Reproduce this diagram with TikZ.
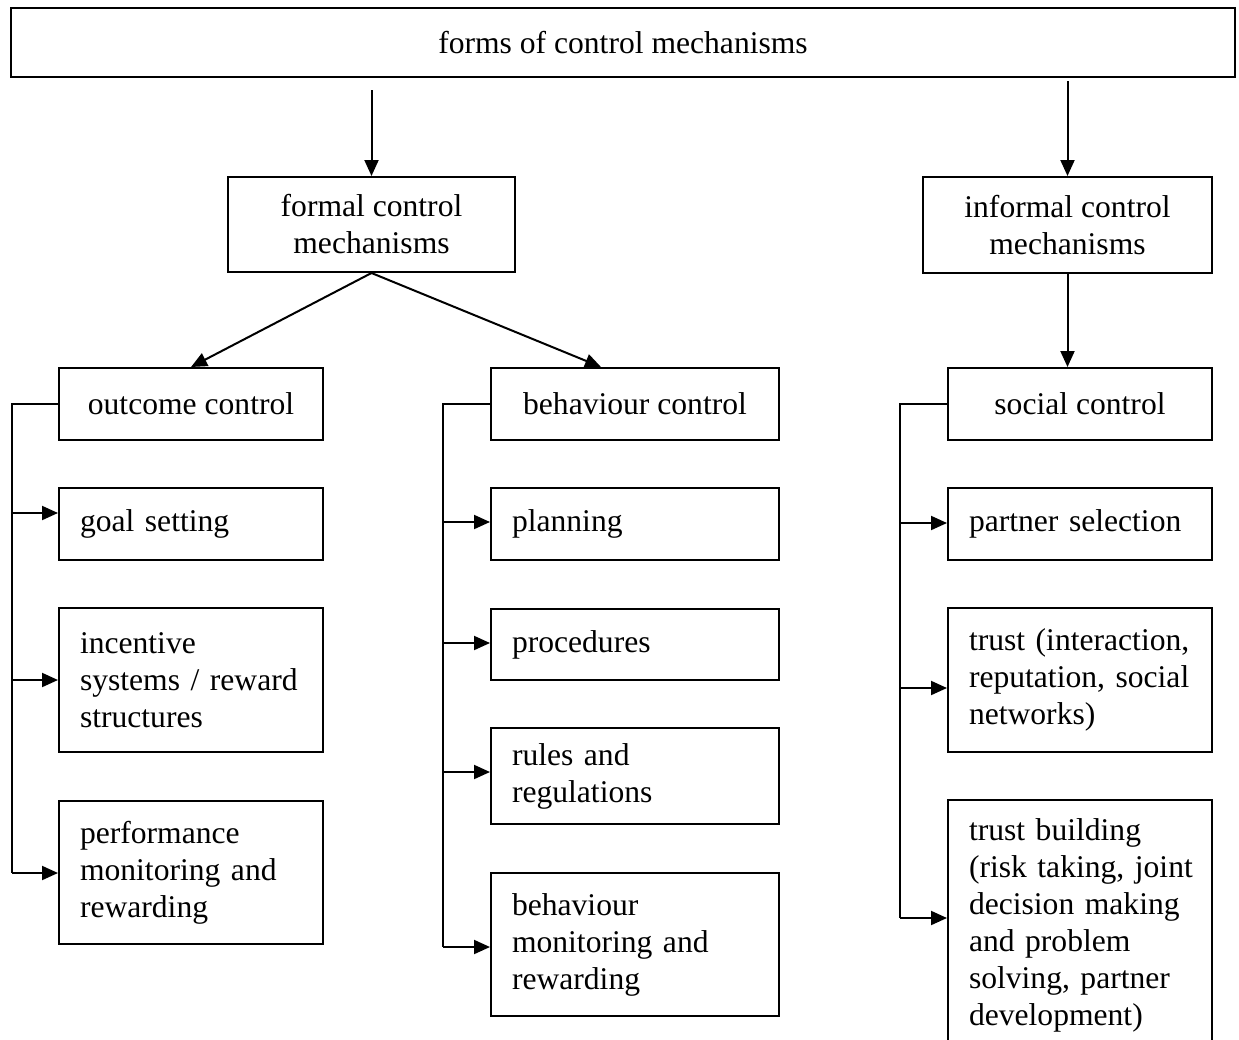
\documentclass[tikz,border=0pt]{standalone}
\usepackage{fontspec}
\setmainfont{Liberation Serif}
\usetikzlibrary{arrows.meta}
\begin{document}
\begin{tikzpicture}[x=1pt,y=-1pt,
  line width=2pt,
  box/.style={draw, rectangle, inner sep=0pt, align=center,
    font=\fontsize{31.6pt}{37pt}\selectfont},
  leaf/.style={draw, rectangle, inner ysep=0pt, inner xsep=21pt, align=left,
    font=\fontsize{31.6pt}{37pt}\selectfont},
  arr/.style={-{Triangle[length=16pt,width=14pt]}},
]
\useasboundingbox (0,0) rectangle (1239,1039);
\clip (0,0) rectangle (1239,1039);

% root and the two families of mechanisms
\node[box, minimum width=1224pt, minimum height=69pt] (root) at (623,42.5) {forms of control mechanisms};
\node[box, minimum width=287pt, minimum height=95pt] (formal) at (371.5,224.5) {formal control\\mechanisms};
\node[box, minimum width=289pt, minimum height=96pt] (informal) at (1067.5,225) {informal control\\mechanisms};

% control types
\node[box, minimum width=264pt, minimum height=72pt] (outcome) at (191,404) {outcome control};
\node[box, minimum width=288pt, minimum height=72pt] (behav) at (635,404) {behaviour control};
\node[box, minimum width=264pt, minimum height=72pt] (social) at (1080,404) {social control};

% outcome control instruments
\node[leaf, text width=222pt, minimum height=72pt] (goal) at (191,524) {\mbox{goal setting}};
\node[leaf, text width=222pt, minimum height=144pt] (incent) at (191,680)
  {\mbox{incentive}\\\mbox{systems / reward}\\\mbox{structures}};
\node[leaf, text width=222pt, minimum height=143pt] (perf) at (191,872.5)
  {\mbox{performance}\\\mbox{monitoring and}\\\mbox{rewarding}};

% behaviour control instruments
\node[leaf, text width=246pt, minimum height=72pt] (plan) at (635,524) {\mbox{planning}};
\node[leaf, text width=246pt, minimum height=71pt] (proc) at (635,644.5) {\mbox{procedures}};
\node[leaf, text width=246pt, minimum height=96pt] (rules) at (635,776)
  {\mbox{rules and}\\\mbox{regulations}};
\node[leaf, text width=246pt, minimum height=143pt] (behmon) at (635,944.5)
  {\mbox{behaviour}\\\mbox{monitoring and}\\\mbox{rewarding}};

% social control instruments
\node[leaf, text width=222pt, minimum height=72pt] (partner) at (1080,524) {\mbox{partner selection}};
\node[leaf, text width=222pt, minimum height=144pt] (trust) at (1080,680)
  {\mbox{trust (interaction,}\\\mbox{reputation, social}\\\mbox{networks)}};
\node[leaf, text width=222pt, minimum height=250pt] (tbuild) at (1080,925)
  {\mbox{trust building}\\\mbox{(risk taking, joint}\\\mbox{decision making}\\\mbox{and problem}\\\mbox{solving, partner}\\\mbox{development)}};

% hierarchy arrows
\draw[arr, shorten <=12pt] (formal.north |- root.south) -- (formal.north);
\draw[arr, shorten <=3pt] (informal.north |- root.south) -- (informal.north);
\draw[arr] (formal.south) -- (outcome.north);
\draw[arr] (formal.south) -- ([xshift=111pt]behav.north west);
\draw[arr] (informal.south) -- (informal.south |- social.north);

% distribution buses
\coordinate (busA) at (12,873);
\coordinate (busB) at (443,947);
\coordinate (busC) at (900,918);
\draw (outcome.west) -| (busA);
\draw (behav.west) -| (busB);
\draw (social.west) -| (busC);

% arrow entry points on the instrument boxes
\coordinate (goalIn) at ([yshift=11pt]goal.west);
\coordinate (incentIn) at (incent.west);
\coordinate (perfIn) at ([yshift=-0.5pt]perf.west);
\coordinate (planIn) at ([yshift=2pt]plan.west);
\coordinate (procIn) at ([yshift=1.5pt]proc.west);
\coordinate (rulesIn) at ([yshift=4pt]rules.west);
\coordinate (behmonIn) at ([yshift=-2.5pt]behmon.west);
\coordinate (partnerIn) at ([yshift=1pt]partner.west);
\coordinate (trustIn) at ([yshift=-8pt]trust.west);
\coordinate (tbuildIn) at ([yshift=7pt]tbuild.west);

\foreach \n in {goalIn,incentIn,perfIn} \draw[arr] (\n -| busA) -- (\n);
\foreach \n in {planIn,procIn,rulesIn,behmonIn} \draw[arr] (\n -| busB) -- (\n);
\foreach \n in {partnerIn,trustIn,tbuildIn} \draw[arr] (\n -| busC) -- (\n);
\end{tikzpicture}
\end{document}
